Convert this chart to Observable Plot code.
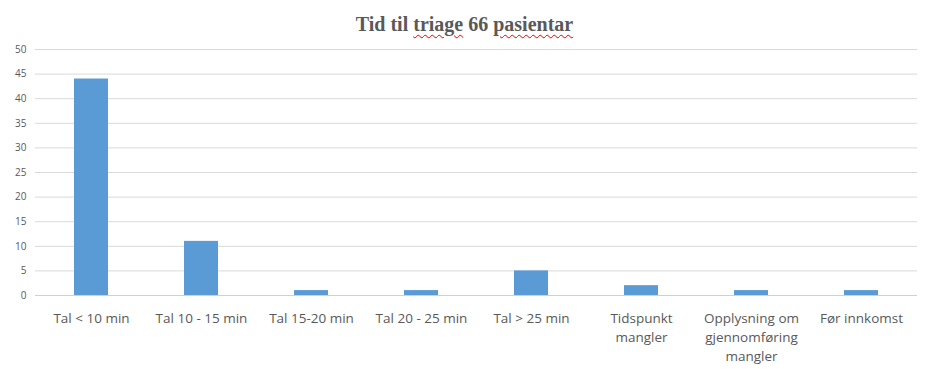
<!DOCTYPE html>
<html>
<head>
<meta charset="utf-8">
<script src="https://cdn.jsdelivr.net/npm/d3@7"></script>
<script src="https://cdn.jsdelivr.net/npm/@observablehq/plot@0.6"></script>
<style>
  html, body { margin: 0; padding: 0; background: #fff; }
  #title {
    height: 40px; width: 929px; text-align: center;
    font-family: "Liberation Serif", serif; font-weight: bold; font-size: 20px;
    color: #595959; line-height: 48px;
  }
  .sp { text-decoration: underline wavy #e00; text-decoration-thickness: 1px; text-underline-offset: 3px; }
  #chart svg { display: block; }
</style>
</head>
<body>
<div id="title">Tid til <span class="sp">triage</span> 66 <span class="sp">pasientar</span></div>
<div id="chart"></div>
<script>
// Patients by time to triage
const categories = [
  "Tal < 10 min",
  "Tal 10 - 15 min",
  "Tal 15-20 min",
  "Tal 20 - 25 min",
  "Tal > 25 min",
  "Tidspunkt\nmangler",
  "Opplysning om\ngjennomføring\nmangler",
  "Før innkomst"
];
const counts = [44, 11, 1, 1, 5, 2, 1, 1];
const yTicks = [0, 5, 10, 15, 20, 25, 30, 35, 40, 45, 50];

const data = categories.map((c, i) => ({category: c, count: counts[i]}));

const chart = Plot.plot({
  width: 929,
  height: 329,
  marginTop: 9,
  marginLeft: 35,
  marginRight: 12,
  marginBottom: 74,
  style: {fontFamily: "'Open Sans', sans-serif", color: "#595959", background: "#fff"},
  x: {domain: categories, paddingInner: 0.69, paddingOuter: 0.345, label: null},
  y: {domain: [0, 50], label: null},
  marks: [
    Plot.gridY(yTicks, {stroke: "#d9d9d9", strokeOpacity: 1}),
    Plot.axisY(yTicks, {tickSize: 0, tickPadding: 9, fontSize: 10, label: null, fill: "#595959"}),
    Plot.barY(data, {x: "category", y: "count", fill: "#5b9bd5"}),
    Plot.ruleY([0], {stroke: "#d0d0d0"}),
    Plot.axisX({tickSize: 0, tickPadding: 14, fontSize: 13.5, lineHeight: 1.4, label: null, fill: "#595959"})
  ]
});
document.getElementById("chart").append(chart);
</script>
</body>
</html>
